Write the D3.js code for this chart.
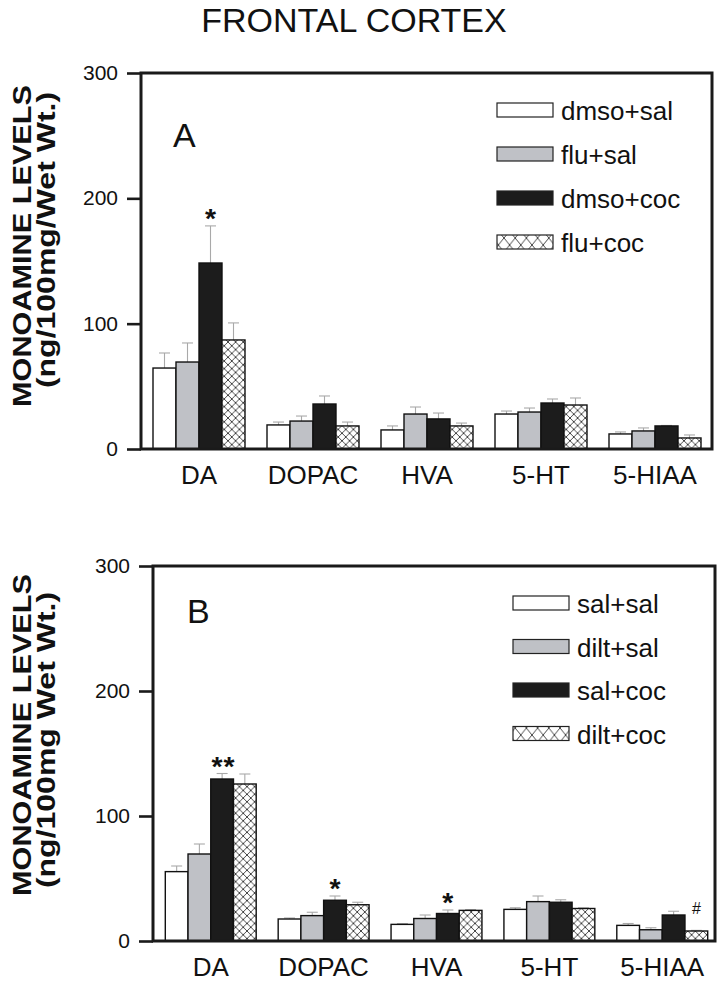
<!DOCTYPE html>
<html><head><meta charset="utf-8">
<script src="https://cdn.jsdelivr.net/npm/d3@7/dist/d3.min.js"></script>
<style>body{margin:0;background:#fff}svg{display:block}</style>
</head><body>
<script>
// ---------- DATA ----------
const categories = ["DA", "DOPAC", "HVA", "5-HT", "5-HIAA"];
const yTicks = [0, 100, 200, 300];

const seriesA = ["dmso+sal", "flu+sal", "dmso+coc", "flu+coc"];
const valuesA = [
  [64.6, 19.2, 15.2, 27.9, 12.0],
  [69.4, 22.3, 27.9, 29.5, 14.4],
  [148.4, 35.9, 24.0, 36.7, 18.4],
  [87.0, 18.4, 18.4, 35.1, 8.8]
];
const semA = [
  [12.0, 2.3, 3.2, 2.4, 1.6],
  [15.2, 4.0, 5.6, 3.2, 2.4],
  [29.6, 6.4, 4.7, 3.2, 0.4],
  [13.6, 3.1, 2.3, 5.6, 2.4]
];
const marksA = [{text: "*", cat: "DA", series: 2}];

const seriesB = ["sal+sal", "dilt+sal", "sal+coc", "dilt+coc"];
const valuesB = [
  [55.5, 17.6, 13.3, 25.3, 12.5],
  [69.6, 20.3, 18.0, 31.5, 9.0],
  [129.6, 32.6, 22.0, 31.0, 20.8],
  [125.6, 29.0, 24.5, 26.0, 8.0]
];
const semB = [
  [4.5, 0.8, 0.6, 1.3, 1.5],
  [8.0, 2.7, 2.8, 4.5, 1.6],
  [4.4, 3.4, 2.8, 2.0, 3.0],
  [8.0, 2.0, 0.6, 0.5, 0.5]
];
const marksB = [
  {text: "**", cat: "DA", series: 2},
  {text: "*", cat: "DOPAC", series: 2},
  {text: "*", cat: "HVA", series: 2},
  {text: "#", cat: "5-HIAA", series: 3}
];

// ---------- DRAWING ----------
const W = 726, H = 984;
const FONT = "'Liberation Sans', Arial, Helvetica, sans-serif";
const fills = ["#ffffff", "#bfc1c6", "#1c1c1c", "url(#hatch)"];
const legendFills = ["#ffffff", "#bfc1c6", "#1c1c1c", "url(#hatchLeg)"];

const svg = d3.select("body").append("svg").attr("width", W).attr("height", H);
const defs = svg.append("defs");
function hatch(id, w, h) {
  const p = defs.append("pattern").attr("id", id).attr("patternUnits", "userSpaceOnUse")
    .attr("width", w).attr("height", h);
  p.append("rect").attr("width", w).attr("height", h).attr("fill", "#fff");
  p.append("path").attr("d", `M0,0L${w},${h}M0,${h}L${w},0`)
    .attr("stroke", "#333").attr("stroke-width", 0.9).attr("fill", "none");
}
hatch("hatch", 7.6, 7.6);
hatch("hatchLeg", 11.2, 14);

function txt(g, x, y, s, o = {}) {
  return g.append("text")
    .attr("transform", `translate(${x},${y}) rotate(${o.rot || 0}) scale(${o.sx || 1},1)`)
    .attr("text-anchor", o.anchor || "start")
    .attr("font-family", FONT)
    .attr("font-size", o.size || 20)
    .attr("font-weight", o.weight || "normal")
    .attr("fill", "#111")
    .text(s);
}

txt(svg, 354, 32, "FRONTAL CORTEX", {size: 34, anchor: "middle"});

function panel(cfg) {
  const g = svg.append("g");
  const y = d3.scaleLinear().domain([0, 300]).range([cfg.bottom, cfg.top]);
  const x0 = d3.scaleBand().domain(categories).range([cfg.barL, cfg.barR])
    .paddingInner(cfg.gapFrac).paddingOuter(0);
  const x1 = d3.scaleBand().domain(d3.range(cfg.series.length)).range([0, x0.bandwidth()]);

  const data = [];
  cfg.series.forEach((s, si) => categories.forEach((c, ci) =>
    data.push({si, c, v: cfg.values[si][ci], e: cfg.sem[si][ci]})));

  // error bars (upper only)
  const eb = g.append("g").attr("stroke", "#a9a9a9").attr("stroke-width", 1.1);
  data.forEach(d => {
    const cx = x0(d.c) + x1(d.si) + x1.bandwidth() / 2;
    eb.append("line").attr("x1", cx).attr("x2", cx).attr("y1", y(d.v)).attr("y2", y(d.v + d.e));
    eb.append("line").attr("x1", cx - 5.5).attr("x2", cx + 5.5).attr("y1", y(d.v + d.e)).attr("y2", y(d.v + d.e));
  });
  g.append("g").selectAll("rect").data(data).join("rect")
    .attr("x", d => x0(d.c) + x1(d.si))
    .attr("y", d => y(d.v))
    .attr("width", x1.bandwidth())
    .attr("height", d => y(0) - y(d.v))
    .attr("fill", d => fills[d.si])
    .attr("stroke", "#111").attr("stroke-width", 1.4);

  // annotations
  cfg.marks.forEach(m => {
    const si = m.series, ci = categories.indexOf(m.cat);
    const cx = x0(m.cat) + x1(si) + x1.bandwidth() / 2 + (m.text === "**" ? 1.5 : 0);
    const top = y(cfg.values[si][ci] + cfg.sem[si][ci]);
    if (m.text === "#") {
      txt(g, cx, top - 16, m.text, {size: 16, anchor: "middle"});
    } else {
      txt(g, cx, top + 2, m.text, {size: 27, anchor: "middle", weight: "bold", sx: 1.05})
        .attr("letter-spacing", m.text.length > 1 ? 1 : 0);
    }
  });

  // frame
  g.append("rect").attr("x", cfg.left).attr("y", cfg.top).attr("width", cfg.right - cfg.left)
    .attr("height", cfg.bottom - cfg.top).attr("fill", "none").attr("stroke", "#1a1a1a").attr("stroke-width", 3);

  // y axis
  const ya = g.append("g").attr("transform", `translate(${cfg.left},0)`)
    .call(d3.axisLeft(y).tickValues(yTicks).tickSize(14).tickPadding(3).tickFormat(d3.format("d")));
  ya.select(".domain").remove();
  ya.selectAll(".tick line").attr("stroke", "#1a1a1a").attr("stroke-width", 2.6);
  ya.selectAll(".tick text").remove();
  yTicks.forEach(t => txt(ya, -23, y(t) + 7, String(t), {size: 20, anchor: "end", sx: 1.05}));

  // x labels
  categories.forEach(c => txt(g, x0(c) + x0.bandwidth() / 2, cfg.bottom + 35, c, {size: 26, anchor: "middle"}));

  // y title
  txt(g, 31, cfg.titleY, "MONOAMINE LEVELS", {size: 26, weight: "bold", anchor: "middle", rot: -90, sx: 1.18});
  txt(g, 55, cfg.titleY2, cfg.unit, {size: 25, weight: "bold", anchor: "middle", rot: -90, sx: 1.28});

  // panel letter
  txt(g, cfg.letterX, cfg.letterY, cfg.letter, {size: 34});

  // legend
  cfg.series.forEach((s, i) => {
    const ly = cfg.legY + i * cfg.legStep;
    g.append("rect").attr("x", cfg.legX).attr("y", ly).attr("width", 56).attr("height", 14)
      .attr("fill", legendFills[i]).attr("stroke", "#222").attr("stroke-width", 1.2);
    txt(g, cfg.legX + 64, ly + 17, s, {size: 26});
  });
}

panel({
  series: seriesA, values: valuesA, sem: semA, marks: marksA,
  left: 141, right: 712, top: 73, bottom: 449,
  barL: 153, barR: 701, gapFrac: 22 / 114,
  titleY: 246, titleY2: 240, unit: "(ng/100mg/Wet Wt.)",
  letter: "A", letterX: 173, letterY: 147,
  legX: 497, legY: 103, legStep: 44
});

panel({
  series: seriesB, values: valuesB, sem: semB, marks: marksB,
  left: 153, right: 715, top: 566, bottom: 941,
  barL: 165.3, barR: 707.7, gapFrac: 22 / 113,
  titleY: 735, titleY2: 740, unit: "(ng/100mg Wet Wt.)",
  letter: "B", letterX: 187, letterY: 623,
  legX: 513, legY: 596, legStep: 43.5
});
</script>
</body></html>
